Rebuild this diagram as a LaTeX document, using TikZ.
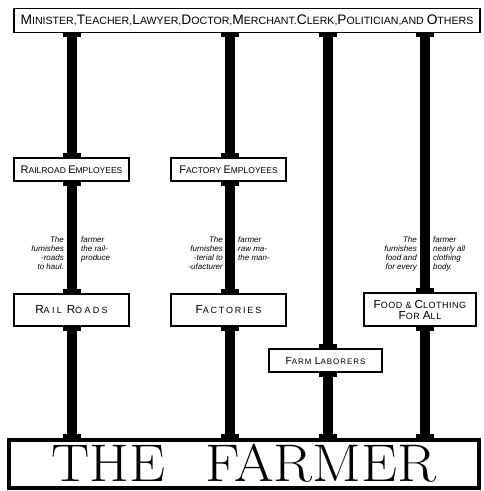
\documentclass[tikz,border=0pt]{standalone}
\usepackage{fontspec}
\newfontfamily\signfont{Liberation Sans}
\usetikzlibrary{arrows.meta,backgrounds}
\newcommand{\ini}[1]{\scalebox{1.3}{#1}}
\tikzset{sign/.style={draw, line width=1.5pt, fill=white, inner sep=0pt,
    font=\signfont\fontsize{8.5}{11}\selectfont, align=center},
  spaced/.style 2 args={font=\signfont\fontsize{#1}{11}\selectfont\addfontfeature{LetterSpace=#2}},
  pillar/.style={line width=10.5pt,
    {Rectangle[length=4pt,width=18pt]}-{Rectangle[length=4pt,width=18pt]}},
  note/.style={font=\signfont\itshape\fontsize{8}{9.3}\selectfont, inner sep=0pt}}

\begin{document}
\begin{tikzpicture}[x=1pt,y=-1pt]
\useasboundingbox (0,0) rectangle (483,491);
% columns
\coordinate (c1) at (72,0);
\coordinate (c2) at (230,0);
\coordinate (c3) at (328,0);
\coordinate (c4) at (425,0);
% signs
\node[sign, minimum width=466pt, minimum height=24pt, font=\signfont\fontsize{10.6}{12}\selectfont] (others) at (247,20.5)
  {\ini{M}INISTER,\ini{T}EACHER,\ini{L}AWYER,\ini{D}OCTOR,\ini{M}ERCHANT.\ini{C}LERK,\ini{P}OLITICIAN,AND \ini{O}THERS};
\node[sign, minimum width=115pt, minimum height=23pt] (rremp) at (71.5,169.5)
  {\ini{R}AILROAD \ini{E}MPLOYEES};
\node[sign, minimum width=115pt, minimum height=23pt] (factemp) at (228.5,169.5)
  {\ini{F}ACTORY \ini{E}MPLOYEES};
\node[sign, spaced={9}{26}, minimum width=115pt, minimum height=32pt] (rr) at (71.5,310)
  {\ini{R}AIL \ini{R}OADS};
\node[sign, spaced={9}{20}, minimum width=115pt, minimum height=32pt] (fact) at (228.5,310)
  {\ini{F}ACTORIES};
\node[sign, spaced={9}{6}, minimum width=112pt, minimum height=33pt] (food) at (420,309.5)
  {\ini{F}OOD \& \ini{C}LOTHING\\\ini{F}OR \ini{A}LL};
\node[sign, spaced={8}{12}, minimum width=113pt, minimum height=23pt] (farmlab) at (325.5,360.5)
  {\ini{F}ARM \ini{L}ABORERS};
\node[draw, line width=4pt, fill=white, inner sep=0pt, minimum width=470pt,
  minimum height=48pt, font=\fontsize{53}{53}\selectfont] (farmer) at (244,463.5)
  {\scalebox{1.08}[1]{THE\hspace{0.7em}FARMER}};

% what the farmer furnishes
\node[note, anchor=north east, align=right] (rrl) at (64,236)
  {The\\furnishes\\-roads\\to haul.};
\node[note, anchor=north west, align=left] (rrr) at (81,236)
  {farmer\\the rail-\\produce};
\node[note, anchor=north east, align=right] (factl) at (223,236)
  {The\\furnishes\\-terial to\\-ufacturer};
\node[note, anchor=north west, align=left] (factr) at (238,236)
  {farmer\\raw ma-\\the man-};
\node[note, anchor=north east, align=right] (foodl) at (417,236)
  {The\\furnishes\\food and\\for every};
\node[note, anchor=north west, align=left] (foodr) at (433,236)
  {farmer\\nearly all\\clothing\\body.};

% the pillars
\begin{pgfonlayer}{background}
\draw[pillar] (others.south -| c1) -- (rremp.north -| c1);
\draw[pillar] (rremp.south -| c1) -- (rr.north -| c1);
\draw[pillar] (rr.south -| c1) -- (farmer.north -| c1);
\draw[pillar] (others.south -| c2) -- (factemp.north -| c2);
\draw[pillar] (factemp.south -| c2) -- (fact.north -| c2);
\draw[pillar] (fact.south -| c2) -- (farmer.north -| c2);
\draw[pillar] (others.south -| c3) -- (farmlab.north -| c3);
\draw[pillar] (farmlab.south -| c3) -- (farmer.north -| c3);
\draw[pillar] (others.south -| c4) -- (food.north -| c4);
\draw[pillar] (food.south -| c4) -- (farmer.north -| c4);
\end{pgfonlayer}
\end{tikzpicture}
\end{document}
